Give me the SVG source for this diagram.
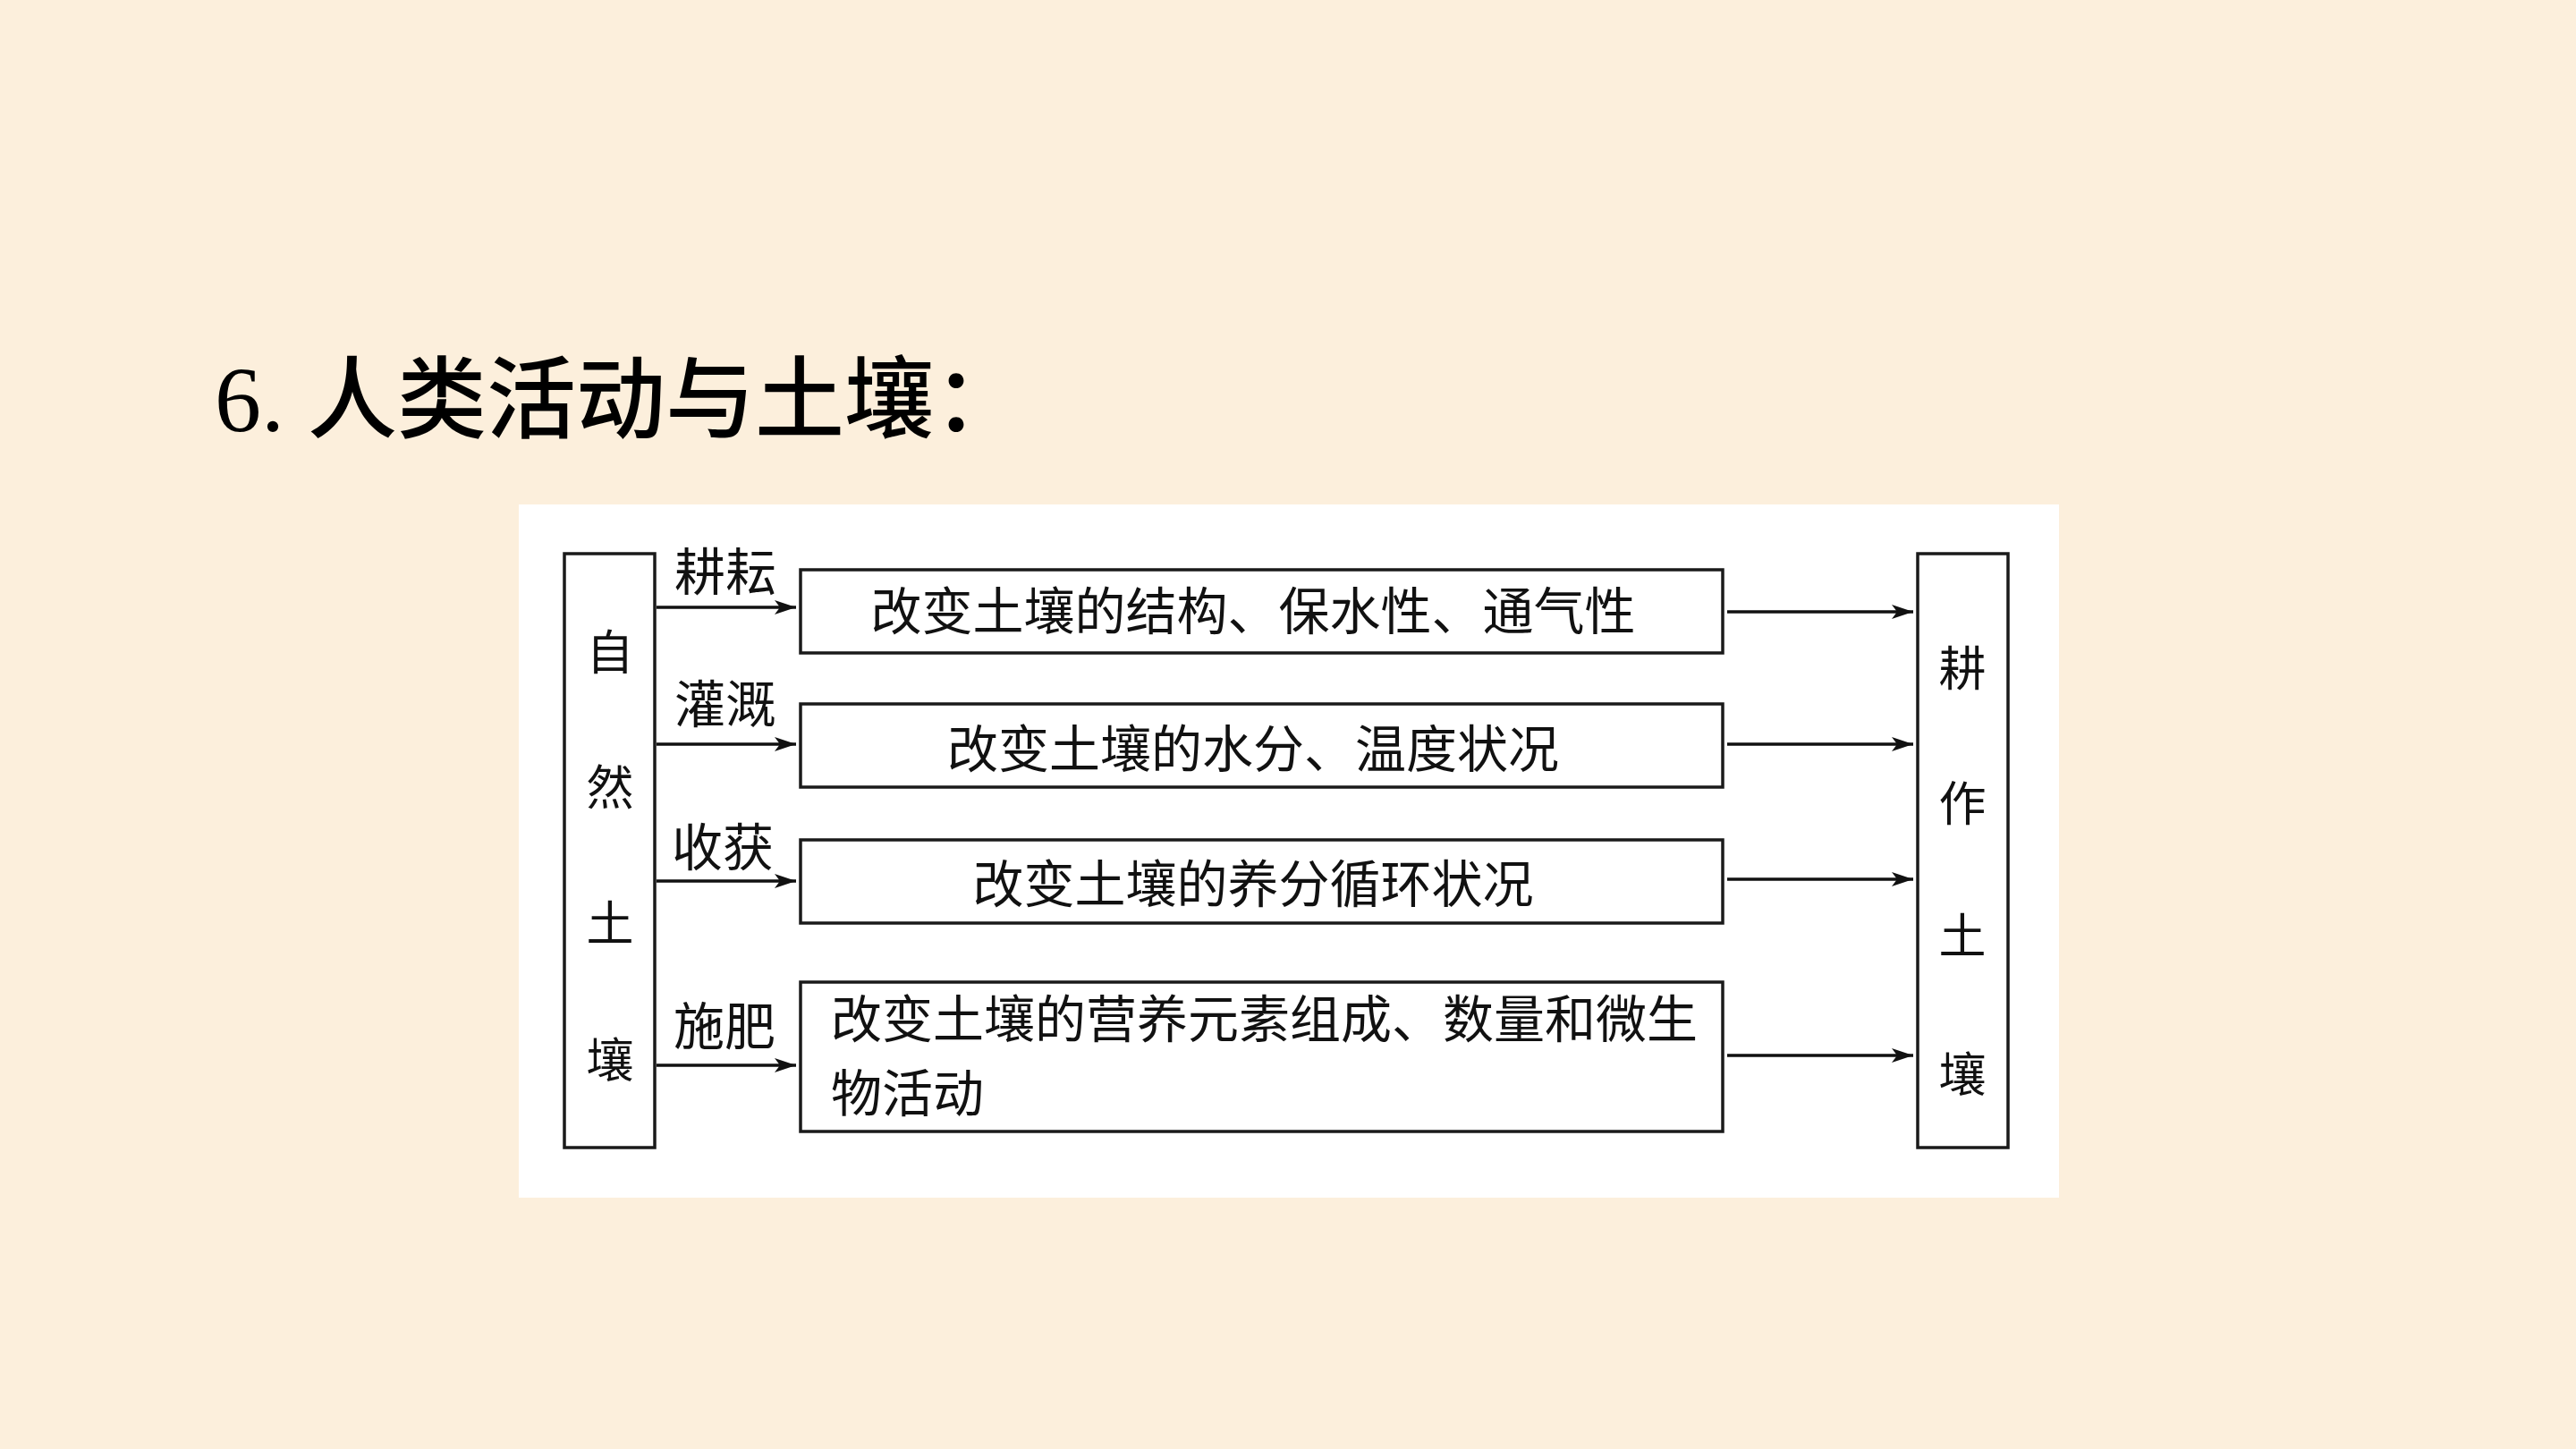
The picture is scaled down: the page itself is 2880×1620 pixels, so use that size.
<svg xmlns="http://www.w3.org/2000/svg" width="2880" height="1620" viewBox="0 0 2880 1620">
<defs>
<style>
.box{fill:#ffffff;stroke:#1a1a1a;stroke-width:3.5}
.t{font-family:"Noto Sans CJK SC","Noto Sans CJK JP",sans-serif;font-size:57px;fill:#111}
.v{font-family:"Noto Sans CJK SC","Noto Sans CJK JP",sans-serif;font-size:53px;fill:#111;text-anchor:middle}
.c{stroke:#111;stroke-width:3.5;fill:none;marker-end:url(#ah)}
</style>
<marker id="ah" viewBox="0 0 24 16" refX="24" refY="8" markerWidth="24" markerHeight="16" markerUnits="userSpaceOnUse" orient="auto">
<path d="M0,0 L24,8 L0,16 L6,8 Z" fill="#111"/>
</marker>
</defs>
<rect x="0" y="0" width="2880" height="1620" fill="#fcefdc"/>
<g id="title">
<text x="240" y="482" font-family="'Liberation Serif','Noto Sans CJK SC',serif" font-size="104" fill="#000">6. <tspan font-family="'Noto Sans CJK SC','Noto Sans CJK JP',sans-serif" font-weight="500" font-size="100">人类活动与土壤：</tspan></text>
</g>
<rect id="panel" x="580" y="564" width="1722" height="775" fill="#ffffff"/>
<g id="natural-soil">
<rect class="box" x="631" y="619" width="101" height="664"/>
<text class="v" x="682" y="749">自</text>
<text class="v" x="682" y="900">然</text>
<text class="v" x="682" y="1052">土</text>
<text class="v" x="682" y="1205">壤</text>
</g>
<g id="effect-1">
<rect class="box" x="895" y="637" width="1031" height="93"/>
<text class="t" x="1401" y="704" text-anchor="middle">改变土壤的结构、保水性、通气性</text>
</g>
<g id="effect-2">
<rect class="box" x="895" y="787" width="1031" height="93"/>
<text class="t" x="1401" y="858" text-anchor="middle">改变土壤的水分、温度状况</text>
</g>
<g id="effect-3">
<rect class="box" x="895" y="939" width="1031" height="93"/>
<text class="t" x="1401" y="1009" text-anchor="middle">改变土壤的养分循环状况</text>
</g>
<g id="effect-4">
<rect class="box" x="895" y="1098" width="1031" height="167"/>
<text class="t"><tspan x="929" y="1160">改变土壤的营养元素组成、数量和微生</tspan><tspan x="929" y="1243">物活动</tspan></text>
</g>
<g id="cultivated-soil">
<rect class="box" x="2144" y="619" width="101" height="664"/>
<text class="v" x="2194" y="767">耕</text>
<text class="v" x="2194" y="918">作</text>
<text class="v" x="2194" y="1066">土</text>
<text class="v" x="2194" y="1221">壤</text>
</g>
<g id="connectors">
<line class="c" x1="734" y1="679" x2="890" y2="679"/>
<line class="c" x1="734" y1="832" x2="890" y2="832"/>
<line class="c" x1="734" y1="985" x2="890" y2="985"/>
<line class="c" x1="734" y1="1191" x2="890" y2="1191"/>
<line class="c" x1="1931" y1="684" x2="2139" y2="684"/>
<line class="c" x1="1931" y1="832" x2="2139" y2="832"/>
<line class="c" x1="1931" y1="983" x2="2139" y2="983"/>
<line class="c" x1="1931" y1="1180" x2="2139" y2="1180"/>
<text class="t" x="754" y="660">耕耘</text>
<text class="t" x="754" y="808">灌溉</text>
<text class="t" x="751" y="968">收获</text>
<text class="t" x="753" y="1168">施肥</text>
</g>
</svg>
